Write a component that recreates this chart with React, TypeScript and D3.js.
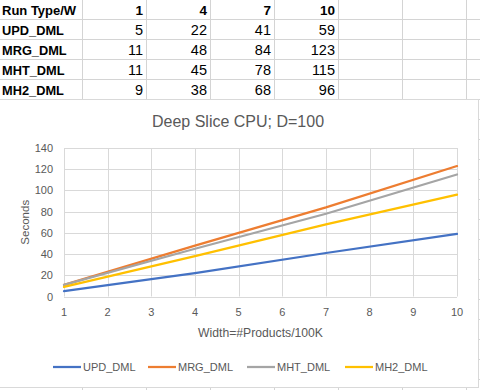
import React, { useEffect, useRef } from 'react';
import * as d3 from 'd3';

// table / chart data read from the sheet
const widths = [1, 4, 7, 10];
const runTypes = ['UPD_DML', 'MRG_DML', 'MHT_DML', 'MH2_DML'];
const updDml = [5, 22, 41, 59];
const mrgDml = [11, 48, 84, 123];
const mhtDml = [11, 45, 78, 115];
const mh2Dml = [9, 38, 68, 96];
const seriesValues = [updDml, mrgDml, mhtDml, mh2Dml];
const seriesColors = ['#4472C4', '#ED7D31', '#A5A5A5', '#FFC000'];
const xTicks = [1, 2, 3, 4, 5, 6, 7, 8, 9, 10];
const yTicks = [0, 20, 40, 60, 80, 100, 120, 140];

const FONT = "'Liberation Sans', Arial, sans-serif";

export default function App() {
  const ref = useRef<SVGSVGElement>(null);

  useEffect(() => {
    document.body.style.margin = '0';
    const svg = d3.select(ref.current);
    svg.selectAll('*').remove();

    // ---- spreadsheet grid ----
    const colEdges = [82, 146, 210, 274, 338, 402, 466];
    const rowH = 20;
    const grid = svg.append('g').attr('stroke', '#D4D4D4').attr('stroke-width', 1);
    for (let r = 1; r <= 20; r++) {
      grid.append('line').attr('x1', 0).attr('x2', 480)
        .attr('y1', r * rowH - 0.5).attr('y2', r * rowH - 0.5);
    }
    colEdges.forEach(c => {
      grid.append('line').attr('x1', c + 0.5).attr('x2', c + 0.5).attr('y1', 0).attr('y2', 390);
    });

    const cells = svg.append('g').attr('font-family', FONT).attr('font-size', 13).attr('fill', '#000');
    cells.append('text').attr('x', 2).attr('y', 15).attr('font-weight', 'bold').text('Run Type/W');
    widths.forEach((w, j) => {
      cells.append('text').attr('x', colEdges[j + 1] - 3).attr('y', 15)
        .attr('text-anchor', 'end').attr('font-weight', 'bold').attr('font-size', 13.5).text(w);
    });
    runTypes.forEach((name, i) => {
      const y = 15 + (i + 1) * rowH;
      cells.append('text').attr('x', 2).attr('y', y).attr('font-weight', 'bold').attr('font-size', 12.8).text(name);
      seriesValues[i].forEach((v, j) => {
        cells.append('text').attr('x', colEdges[j + 1] - 3).attr('y', y)
          .attr('text-anchor', 'end').attr('font-size', 14.5).text(v);
      });
    });

    // ---- chart box ----
    svg.append('rect').attr('x', -1).attr('y', 99.5).attr('width', 479.5).attr('height', 288)
      .attr('fill', '#fff').attr('stroke', '#D9D9D9');

    const left = 64, right = 457, top = 148, bottom = 296.5;
    const x = d3.scaleLinear().domain([1, 10]).range([left, right]);
    const y = d3.scaleLinear().domain([0, 140]).range([bottom, top]);

    const g = svg.append('g');
    yTicks.forEach(t => {
      g.append('line').attr('x1', left).attr('x2', right)
        .attr('y1', Math.round(y(t)) + 0.5).attr('y2', Math.round(y(t)) + 0.5)
        .attr('stroke', '#D9D9D9');
      g.append('text').attr('x', 53).attr('y', y(t) + 4)
        .attr('text-anchor', 'end').attr('font-family', FONT).attr('font-size', 11)
        .attr('fill', '#595959').text(t);
    });
    xTicks.forEach(t => {
      g.append('line').attr('y1', top).attr('y2', bottom)
        .attr('x1', Math.round(x(t)) + 0.5).attr('x2', Math.round(x(t)) + 0.5)
        .attr('stroke', '#D9D9D9');
      g.append('text').attr('x', x(t)).attr('y', 316)
        .attr('text-anchor', 'middle').attr('font-family', FONT).attr('font-size', 11)
        .attr('fill', '#595959').text(t);
    });

    const line = d3.line<number>()
      .x((d, i) => x(widths[i]))
      .y(d => y(d));

    seriesValues.forEach((vals, i) => {
      g.append('path').datum(vals).attr('d', line).attr('fill', 'none')
        .attr('stroke', seriesColors[i]).attr('stroke-width', 2.25)
        .attr('stroke-linecap', 'round');
    });

    // titles
    svg.append('text').attr('x', 238).attr('y', 127).attr('text-anchor', 'middle')
      .attr('font-family', FONT).attr('font-size', 16).attr('fill', '#595959')
      .text('Deep Slice CPU; D=100');
    svg.append('text').attr('x', (left + right) / 2).attr('y', 337).attr('text-anchor', 'middle')
      .attr('font-family', FONT).attr('font-size', 12.2).attr('fill', '#595959')
      .text('Width=#Products/100K');
    svg.append('text').attr('transform', `translate(28.5,${(top + bottom) / 2}) rotate(-90)`)
      .attr('text-anchor', 'middle').attr('font-family', FONT).attr('font-size', 11.5)
      .attr('fill', '#595959').text('Seconds');

    // legend
    const legendX = [53, 148, 247, 345];
    runTypes.forEach((name, i) => {
      const lg = svg.append('g').attr('transform', `translate(${legendX[i]},367)`);
      lg.append('line').attr('x1', 0).attr('x2', 28).attr('y1', 0).attr('y2', 0)
        .attr('stroke', seriesColors[i]).attr('stroke-width', 2.25);
      lg.append('text').attr('x', 30).attr('y', 4).attr('font-family', FONT)
        .attr('font-size', 11).attr('fill', '#595959').text(name);
    });
  }, []);

  return (
    <svg ref={ref} width={480} height={390}
      style={{ position: 'absolute', left: 0, top: 0, background: '#fff' }} />
  );
}
